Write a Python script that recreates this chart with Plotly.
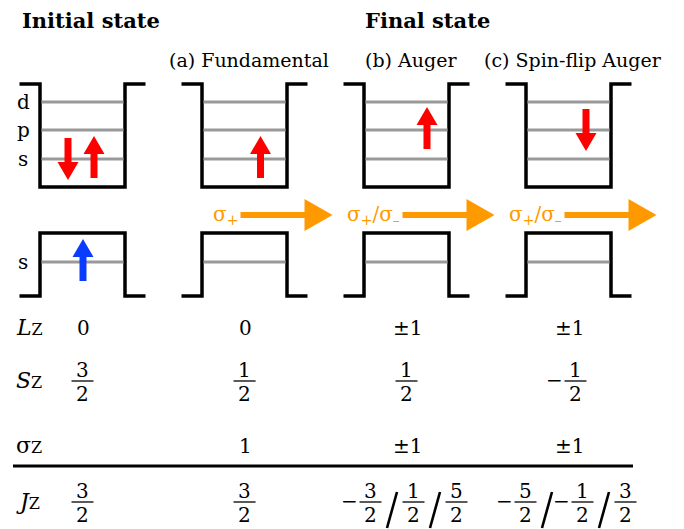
import plotly.graph_objects as go

# ---------------------------------------------------------------- data
headers = ["Initial state", "Final state"]
columns = ["", "(a) Fundamental", "(b) Auger", "(c) Spin-flip Auger"]
cb_levels = ["d", "p", "s"]          # conduction-band levels, top to bottom
vb_levels = ["s"]                    # valence-band level

# electron spins in the conduction band of each column: (level, spin)
cb_spins = [[("s", "down"), ("s", "up")], [("s", "up")], [("p", "up")], [("p", "down")]]
# hole spin in the valence band of each column
vb_spins = [[("s", "up")], [], [], []]
# emitted light polarisation for each final state
light = ["", "σ<sub>+</sub>", "σ<sub>+</sub>/σ<sub>–</sub>", "σ<sub>+</sub>/σ<sub>–</sub>"]

row_labels = ["<i>L</i><span style='font-size:16px'>Z</span>",
              "<i>S</i><span style='font-size:16px'>Z</span>",
              "σ<span style='font-size:16px'>Z</span>",
              "<i>J</i><span style='font-size:16px'>Z</span>"]
Lz = ["0", "0", "±1", "±1"]
Sz = ["3/2", "1/2", "1/2", "-1/2"]
sigma_z = ["", "1", "±1", "±1"]
Jz = [["3/2"], ["3/2"], ["-3/2", "1/2", "5/2"], ["-5/2", "-1/2", "3/2"]]

# ---------------------------------------------------------------- layout geometry
W, H = 684, 529
col_x = [82.5 + 162 * i for i in range(4)]
half_w, lip = 42.5, 20.5
cb_top, cb_bot = 84, 187
cb_level_y = {"d": 102, "p": 130, "s": 159}
vb_top, vb_bot = 233, 296
vb_level_y = {"s": 262}
spin_dx = [[-14.5, 11.5], [16], [20.5], [17.5]]
vb_dx = [[0.5], [], [], []]
light_y = 215
row_y = {"L": 328, "S": 381, "sig": 446, "J": 502}
rule_y = 466

RED, BLUE, ORANGE, GREY = "#ff0000", "#0a3cff", "#ff9900", "#999999"
SERIF = "DejaVu Serif"

shapes, annotations = [], []


def text(x, y, s, size=20, color="black", xanchor="center", yanchor="middle", bold=False):
    if bold:
        s = "<b>" + s + "</b>"
    annotations.append(dict(x=x, y=y, xref="x", yref="y", text=s, showarrow=False,
                            xanchor=xanchor, yanchor=yanchor,
                            font=dict(family=SERIF, size=size, color=color)))


def line(x0, y0, x1, y1, color="black", width=1.3):
    shapes.append(dict(type="line", xref="x", yref="y", x0=x0, y0=y0, x1=x1, y1=y1,
                       line=dict(color=color, width=width)))


def polygon(pts, color):
    path = "M " + " L ".join(f"{px:.1f},{py:.1f}" for px, py in pts) + " Z"
    shapes.append(dict(type="path", xref="x", yref="y", path=path,
                       fillcolor=color, line=dict(width=0)))


def spin_arrow(x, level_y, spin, color):
    if spin == "up":
        tail, tip = level_y + 19, level_y - 23
    else:
        tail, tip = level_y - 21, level_y + 21
    d = 1 if tip > tail else -1
    hb = tip - d * 18
    polygon([(x - 3.5, tail), (x - 3.5, hb), (x - 10.5, hb), (x, tip),
             (x + 10.5, hb), (x + 3.5, hb), (x + 3.5, tail)], color)


def light_arrow(x0, x1, y):
    hb = x1 - 28
    polygon([(x0, y - 3), (hb, y - 3), (hb, y - 16), (x1, y),
             (hb, y + 16), (hb, y + 3), (x0, y + 3)], ORANGE)


def fraction(xc, ybar, frac):
    num, den = frac.split("/")
    text(xc, ybar - 11, num)
    text(xc, ybar + 13, den)
    line(xc - 11, ybar, xc + 11, ybar, width=1.3)


def term_width(frac):
    return (14 if frac.startswith("-") else 0) + 22


def fraction_group(xc, ybar, fracs, slash_w=21):
    total = sum(term_width(f) for f in fracs) + slash_w * (len(fracs) - 1)
    x = xc - total / 2
    for i, f in enumerate(fracs):
        if i:
            sx = x + slash_w / 2
            line(sx - 5, ybar + 26, sx + 5, ybar - 10, width=2.6)
            x += slash_w
        if f.startswith("-"):
            text(x + 4, ybar - 1, "−")
            x += 14
            f = f[1:]
        fraction(x + 11, ybar, f)
        x += 22


# ---------------------------------------------------------------- headers
text(20, 20, headers[0], size=21, xanchor="left", bold=True)
text(427, 20, headers[1], size=21, bold=True)
for c, name in zip(col_x, columns):
    if name:
        text(c + 4, 60, name, size=19)

# ---------------------------------------------------------------- quantum wells
for i, c in enumerate(col_x):
    # conduction band well
    shapes.append(dict(type="path", xref="x", yref="y",
                       path=(f"M {c-half_w-lip},{cb_top} L {c-half_w},{cb_top} L {c-half_w},{cb_bot} "
                             f"L {c+half_w},{cb_bot} L {c+half_w},{cb_top} L {c+half_w+lip},{cb_top}"),
                       line=dict(color="black", width=3.5)))
    for lv in cb_levels:
        line(c - half_w + 1.5, cb_level_y[lv], c + half_w - 1.5, cb_level_y[lv], GREY, 3)
    # valence band barrier
    shapes.append(dict(type="path", xref="x", yref="y",
                       path=(f"M {c-half_w-lip},{vb_bot} L {c-half_w},{vb_bot} L {c-half_w},{vb_top} "
                             f"L {c+half_w},{vb_top} L {c+half_w},{vb_bot} L {c+half_w+lip},{vb_bot}"),
                       line=dict(color="black", width=3.5)))
    for lv in vb_levels:
        line(c - half_w + 1.5, vb_level_y[lv], c + half_w - 1.5, vb_level_y[lv], GREY, 3)

    for (lv, spin), dx in zip(cb_spins[i], spin_dx[i]):
        spin_arrow(c + dx, cb_level_y[lv], spin, RED)
    for (lv, spin), dx in zip(vb_spins[i], vb_dx[i]):
        spin_arrow(c + dx, vb_level_y[lv], spin, BLUE)

    if light[i]:
        light_arrow(c - 4, c + 88, light_y)
        text(c - 5, light_y, light[i], size=20, color=ORANGE, xanchor="right")

for lv in cb_levels:
    text(23, cb_level_y[lv], lv, size=20)
for lv in vb_levels:
    text(23, vb_level_y[lv], lv, size=20)

# ---------------------------------------------------------------- quantum numbers table
for lab, key in zip(row_labels, ["L", "S", "sig", "J"]):
    text(14, row_y[key] - 1, lab, size=22, xanchor="left")

for i, c in enumerate(col_x):
    text(c + 1, row_y["L"], Lz[i])
    fraction_group(c, row_y["S"], [Sz[i]])
    if sigma_z[i]:
        text(c + 1, row_y["sig"], sigma_z[i])
    fraction_group(c, row_y["J"], Jz[i])

line(13, rule_y, 633, rule_y, width=3)

# ---------------------------------------------------------------- figure
fig = go.Figure()
fig.update_layout(
    width=W, height=H, margin=dict(l=0, r=0, t=0, b=0),
    paper_bgcolor="white", plot_bgcolor="white",
    xaxis=dict(range=[0, W], visible=False, fixedrange=True),
    yaxis=dict(range=[H, 0], visible=False, fixedrange=True),
    shapes=shapes, annotations=annotations, showlegend=False,
)
fig.write_html("out.html")
